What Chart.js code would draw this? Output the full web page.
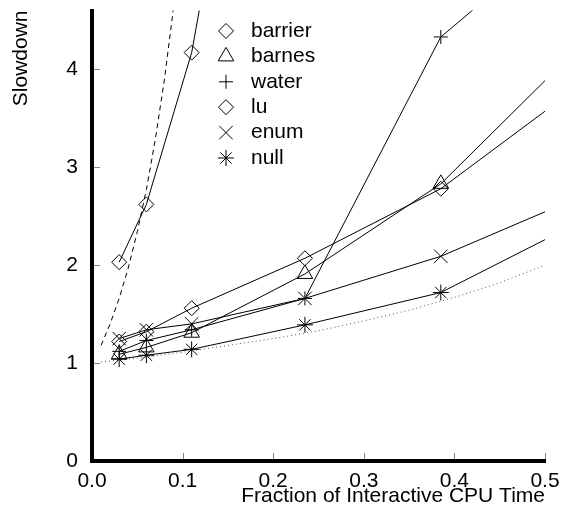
<!DOCTYPE html>
<html>
<head>
<meta charset="utf-8">
<script src="https://cdn.jsdelivr.net/npm/chart.js@4"></script>
<style>
  body { margin: 0; background: #fff; }
</style>
</head>
<body>
<canvas id="slowdownChart" width="561" height="525"></canvas>
<script>
// Measured points (fraction of interactive CPU time -> slowdown)
const benchX = [0.03, 0.06, 0.11, 0.235, 0.385, 0.6];
const barrierX = [0.03, 0.06, 0.11, 0.13];
const barrierY = [2.03, 2.62, 4.17, 5.2];
const barnesY = [1.09, 1.16, 1.31, 1.91, 2.83, 4.8];
const waterY = [1.12, 1.23, 1.34, 1.66, 4.33, 6.0];
const luY = [1.22, 1.32, 1.56, 2.07, 2.78, 4.26];
const enumY = [1.25, 1.34, 1.40, 1.66, 2.09, 2.94];
const nullY = [1.04, 1.08, 1.14, 1.39, 1.72, 2.73];

// Reference curves
const dashX = [0.01, 0.02, 0.03, 0.04, 0.05, 0.06, 0.07, 0.08, 0.09];
const dashY = [1.18, 1.40, 1.66, 1.97, 2.34, 2.77, 3.29, 3.90, 4.63];
const dotX = [0.01, 0.05, 0.1, 0.15, 0.2, 0.25, 0.3, 0.35, 0.4, 0.45, 0.5];
const dotY = [1.01, 1.05, 1.11, 1.18, 1.25, 1.33, 1.43, 1.54, 1.67, 1.82, 2.0];

const xTicks = [0, 0.1, 0.2, 0.3, 0.4, 0.5];
const yTicks = [0, 1, 2, 3, 4];

Chart.defaults.font.family = "'Liberation Sans', Arial, sans-serif";
Chart.defaults.color = '#000';

function pts(xs, ys) {
  return ys.map((y, i) => ({ x: xs[i], y: y }));
}

function series(label, xs, ys, style, radius) {
  return {
    label: label,
    data: pts(xs, ys),
    showLine: true,
    borderColor: '#000',
    borderWidth: 1,
    pointStyle: style,
    pointRadius: radius,
    pointBorderColor: '#000',
    pointBackgroundColor: 'rgba(0,0,0,0)',
    pointBorderWidth: 1,
    clip: 0
  };
}

const datasets = [
  series('barrier', barrierX, barrierY, 'rectRot', 7.5),
  series('barnes', benchX, barnesY, 'triangle', 9),
  series('water', benchX, waterY, 'cross', 7),
  series('lu', benchX, luY, 'rectRot', 7.5),
  series('enum', benchX, enumY, 'crossRot', 9.5),
  series('null', benchX, nullY, 'star', 8),
  {
    data: pts(dashX, dashY),
    showLine: true,
    borderColor: '#000',
    borderWidth: 1,
    borderDash: [5, 4],
    pointRadius: 0,
    clip: 0
  },
  {
    data: pts(dotX, dotY),
    showLine: true,
    borderColor: '#555',
    borderWidth: 1,
    borderDash: [1, 3],
    pointRadius: 0,
    clip: 0
  }
];

// small grey ticks pointing into the plot
const innerTicks = {
  id: 'innerTicks',
  afterDraw(chart) {
    const ctx = chart.ctx;
    const area = chart.chartArea;
    const xs = chart.scales.x, ys = chart.scales.y;
    ctx.save();
    ctx.strokeStyle = '#888';
    ctx.lineWidth = 1;
    ctx.beginPath();
    xTicks.forEach(v => {
      if (v === 0) return;
      const px = Math.round(xs.getPixelForValue(v)) + 0.5;
      ctx.moveTo(px, area.bottom - 2);
      ctx.lineTo(px, area.bottom - 8);
    });
    yTicks.forEach(v => {
      if (v === 0) return;
      const py = Math.round(ys.getPixelForValue(v)) + 0.5;
      ctx.moveTo(area.left + 2, py);
      ctx.lineTo(area.left + 8, py);
    });
    ctx.stroke();
    ctx.restore();
  }
};

// legend drawn inside the plot, markers only
const markerLegend = {
  id: 'markerLegend',
  afterDraw(chart) {
    const ctx = chart.ctx;
    ctx.save();
    ctx.font = "21px 'Liberation Sans', Arial, sans-serif";
    ctx.textBaseline = 'middle';
    ctx.fillStyle = '#000';
    ctx.strokeStyle = '#000';
    let row = 0;
    chart.data.datasets.forEach(ds => {
      if (!ds.label) return;
      const y = 31 + row * 25.4;
      ctx.fillStyle = 'rgba(0,0,0,0)';
      Chart.helpers.drawPoint(ctx, {
        pointStyle: ds.pointStyle,
        radius: ds.pointRadius,
        borderWidth: 1,
        rotation: 0
      }, 226, y);
      ctx.fillStyle = '#000';
      ctx.fillText(ds.label, 251, y);
      row++;
    });
    ctx.restore();
  }
};

new Chart(document.getElementById('slowdownChart'), {
  type: 'scatter',
  data: { datasets: datasets },
  plugins: [innerTicks, markerLegend],
  options: {
    responsive: false,
    animation: false,
    layout: { padding: 0 },
    plugins: {
      legend: { display: false },
      tooltip: { enabled: false }
    },
    scales: {
      x: {
        type: 'linear',
        min: 0,
        max: 0.5,
        grid: { display: false },
        border: { color: '#000', width: 4 },
        ticks: {
          stepSize: 0.1,
          includeBounds: false,
          maxRotation: 0,
          padding: 0,
          font: { size: 21 },
          callback: v => v.toFixed(1)
        },
        title: {
          display: true,
          text: 'Fraction of Interactive CPU Time',
          align: 'end',
          font: { size: 21 },
          padding: { top: 0, bottom: 16 }
        },
        afterFit: s => { s.height = 64; s.paddingRight = 16; }
      },
      y: {
        type: 'linear',
        min: 0,
        max: 4.6,
        grid: { display: false },
        border: { color: '#000', width: 4 },
        ticks: {
          stepSize: 1,
          includeBounds: false,
          padding: 6,
          font: { size: 21 }
        },
        title: {
          display: true,
          text: 'Slowdown',
          align: 'end',
          font: { size: 21 },
          padding: { top: 9, bottom: 0 }
        },
        afterFit: s => { s.width = 92; s.paddingTop = 4; }
      }
    }
  }
});
</script>
</body>
</html>
